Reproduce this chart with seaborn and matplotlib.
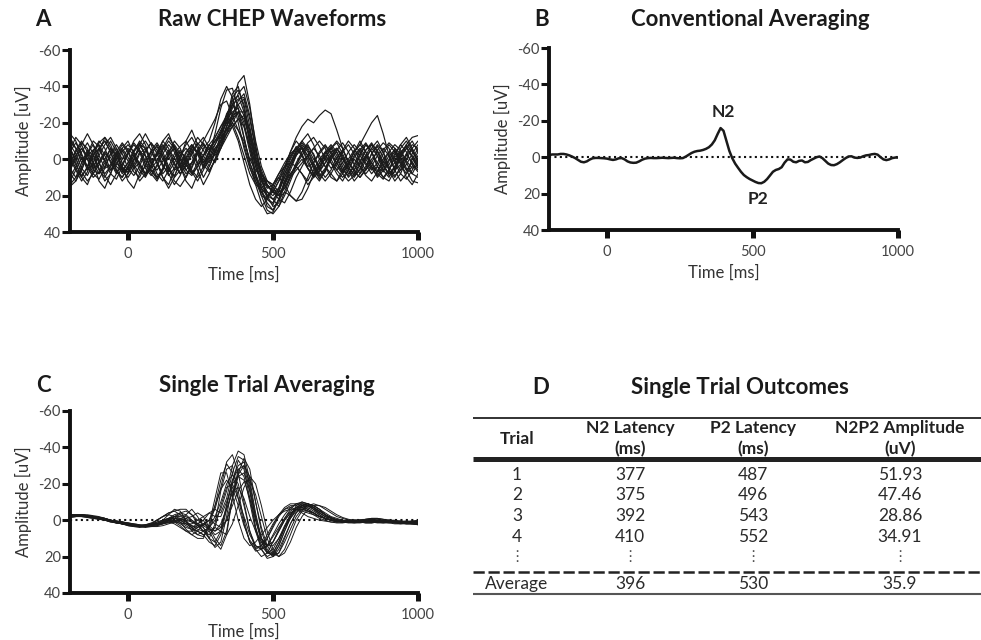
import numpy as np
import pandas as pd
import matplotlib
matplotlib.use("Agg")
import matplotlib.pyplot as plt
import seaborn as sns

# ---------------------------------------------------------------------------
# Data
# ---------------------------------------------------------------------------
# sample times (ms) of the single-trial recordings and of the grand average
trial_times = np.arange(-200, 1001, 20)
average_times = np.arange(-200, 1001, 10)

# raw single-trial CHEP waveforms (uV), one list per trial
raw_traces = [
    [3, -5, -10, -4, 6, 8, 2, -6, -3, 5,
     7, 1, -8, -6, 3, 10, 6, -2, -7, -1,
     4, 2, -5, -9, -3, 2, -6, -18, -30, -42,
     -46, -30, -8, 10, 22, 25, 18, 8, 2, -4,
     -6, 0, 8, 5, -3, -7, -2, 6, 9, 3,
     -5, -9, -4, 4, 7, 1, -6, -3, 5, 8, 2],
    [-8, -3, 5, 9, 2, -6, -10, -4, 4, 7,
     2, -5, -9, -2, 6, 11, 5, -4, -8, -3,
     3, 8, 2, -6, -10, -20, -33, -40, -34, -20,
     -6, 5, 12, 18, 24, 28, 22, 12, 4, -3,
     -8, -4, 3, 9, 5, -2, -6, -1, 5, 8,
     2, -5, -8, -2, 6, 10, 4, -4, -7, -1, 5],
    [5, 10, 6, -3, -8, -2, 5, 3, -4, -9,
     -5, 3, 8, 4, -4, -7, 0, 6, 9, 3,
     -4, -8, -3, 4, -2, -14, -28, -38, -39, -28,
     -12, 2, 10, 16, 20, 18, 12, 6, -1, -7,
     -3, 5, 10, 6, -1, -6, -9, -3, 4, 9,
     6, -2, -8, -5, 3, 9, 7, -1, -6, -10, -4],
    [0, 6, 12, 7, -2, -6, 1, 8, 11, 4,
     -3, -8, -4, 5, 9, 3, -5, -10, -6, 2,
     8, 5, -3, -8, -5, -10, -16, -22, -26, -28,
     -20, -6, 8, 20, 28, 30, 26, 18, 10, 3,
     -2, -7, -3, 5, 10, 6, -1, -5, 1, 7,
     10, 5, -3, -8, -4, 4, 9, 6, -2, -6, 1],
    [-12, -6, 2, -3, -10, -7, 1, 6, 0, -6,
     -10, -3, 4, 9, 4, -3, -8, -4, 3, 8,
     3, -4, -9, -5, 2, -4, -12, -22, -30, -33,
     -34, -22, -5, 8, 15, 18, 16, 10, 4, -2,
     -7, -2, 5, 11, 7, 0, -5, -9, -4, 3,
     8, 4, -3, -7, -1, 6, 10, 4, -3, -8, -6],
    [10, 4, -4, -9, -3, 5, 12, 8, 0, -5,
     1, 7, 10, 3, -5, -9, -4, 4, 10, 6,
     -1, -7, -3, 5, 1, -6, -10, -18, -24, -26,
     -18, -4, 10, 18, 22, 24, 16, 6, -4, -12,
     -18, -22, -20, -24, -27, -25, -16, -6, 2, 6,
     1, -5, -9, -4, 3, 8, 5, -2, -8, -12, -13],
    [-3, 3, 9, 5, -4, -10, -6, 2, 8, 3,
     -4, -9, -5, 3, 8, 12, 6, -2, -6, 0,
     6, 2, -5, -2, 4, -3, -14, -25, -30, -24,
     -12, 2, 12, 20, 22, 16, 10, 14, 20, 23,
     18, 10, 2, -4, -8, -3, 4, 8, 3, -4,
     -8, -14, -20, -24, -14, -2, 6, 3, -3, 2, 6],
    [8, 12, 6, -2, -5, 2, 9, 14, 8, 0,
     -6, -2, 6, 10, 4, -4, -2, 5, 12, 15,
     10, 2, -4, 0, 6, 1, -8, -18, -25, -30,
     -24, -10, 4, 14, 20, 22, 18, 10, 2, -5,
     -9, -5, 2, 8, 12, 8, 2, -4, -8, -3,
     4, 9, 12, 7, 0, -4, 2, 8, 11, 6, 0],
    [-5, -12, -8, 0, 4, -2, -8, -12, -6, 2,
     6, 0, -6, -10, -5, 2, 8, 4, -3, -7,
     -10, -4, 3, -2, -8, -12, -18, -24, -20, -12,
     -2, 8, 14, 16, 12, 14, 18, 16, 9, 2,
     -4, -9, -12, -7, 0, 5, 2, -5, -10, -6,
     1, 6, 2, -5, -9, -6, 1, 6, 3, -3, -8],
    [2, -4, -9, -6, 2, 8, 4, -3, -8, -3,
     5, 9, 4, -4, -9, -5, 3, 9, 5, -2,
     -8, -12, -6, 3, 7, 0, -10, -16, -22, -30,
     -33, -18, 0, 16, 26, 28, 22, 12, 8, 4,
     0, 5, 10, 7, 2, -2, 2, 8, 12, 9,
     3, -2, 2, 8, 11, 6, -1, -4, 2, 8, 10],
    [14, 10, 2, -5, -2, 6, 10, 4, -3, -6,
     -1, 5, 2, -5, -9, -3, 4, 7, 2, -4,
     -1, 6, 10, 4, -4, -8, -14, -20, -28, -36,
     -40, -28, -10, 4, 12, 14, 10, 4, -2, -6,
     -2, 4, 2, -3, -7, -4, 2, 7, 4, -2,
     -6, -2, 4, 7, 2, -4, -8, -5, 1, 5, 3],
    [-6, 0, 7, 12, 8, 1, -4, 1, 7, 10,
     5, -2, -5, 1, 7, 4, -3, -8, -4, 4,
     12, 16, 8, -2, -8, -4, -6, -12, -18, -22,
     -18, -8, 4, 12, 18, 20, 16, 8, 0, -6,
     -10, -6, 0, 4, 0, -6, -10, -6, 2, 6,
     10, 6, 0, -4, 1, 5, 2, -6, -10, -5, 2],
    [4, -2, -6, 0, 8, 11, 5, -3, -6, 0,
     -3, -10, -14, -8, 2, 6, 1, -5, -1, 5,
     2, -6, -12, -8, 0, -6, -10, -14, -20, -26,
     -26, -16, -2, 8, 14, 18, 22, 24, 18, 10,
     4, -2, -6, -2, 4, 10, 12, 6, 0, -5,
     -2, 3, 8, 4, -3, -8, -4, 3, 8, 4, -2],
    [-10, -6, 0, 4, -2, -9, -12, -6, 2, 6,
     2, -4, -8, -2, 5, 1, -6, -12, -7, 0,
     6, 9, 4, -2, -6, -10, -14, -20, -34, -38,
     -30, -14, 0, 10, 16, 14, 8, 2, -3, -6,
     -2, 5, 9, 4, -3, -6, 0, 6, 2, -4,
     -8, -4, 2, 6, 10, 12, 6, -2, -6, -2, 4],
    [12, 6, -1, 4, 10, 7, 0, -6, -2, 6,
     10, 5, -3, -6, 0, 8, 12, 6, -1, -5,
     0, 7, 12, 6, -1, -8, -15, -24, -32, -35,
     -26, -12, 2, 12, 18, 22, 26, 20, 12, 4,
     -4, -8, -2, 6, 2, -4, -6, 0, 6, 10,
     5, -1, -6, -2, 4, 8, 4, -3, -8, -4, 0],
    [-2, 5, 10, 4, -5, -8, -2, 6, 3, -4,
     -8, -4, 3, 8, 3, -4, -10, -6, 2, 8,
     4, -3, -8, -12, -6, -2, -8, -14, -18, -22,
     -24, -16, -4, 6, 14, 18, 20, 14, 6, -2,
     -6, -2, 4, 10, 6, -1, -4, 2, 8, 4,
     -3, -8, -4, 2, 6, 3, -3, -8, -4, 3, 7],
    [6, 0, -6, -2, 5, 2, -4, -10, -4, 4,
     8, 3, -4, -2, 6, 10, 5, -3, -10, -6,
     2, 8, 4, -2, -8, -4, -10, -16, -20, -16,
     -8, 4, 14, 24, 30, 29, 22, 18, 20, 23,
     22, 16, 8, 2, -2, 2, 6, 2, -4, -8,
     -4, 2, 6, 2, -5, -9, -6, 0, 6, 12, 13],
    [-4, -9, -3, 4, 8, 3, -3, -1, 6, 10,
     4, -2, 2, 8, 4, -3, -7, -2, 6, 4,
     -3, -8, -4, 2, -4, -10, -12, -16, -22, -26,
     -22, -12, 0, 8, 12, 16, 20, 14, 8, 4,
     8, 12, 6, 0, -4, 0, 6, 10, 6, -1,
     -5, 0, 5, 9, 4, -2, -5, 1, 6, 2, -4],
    [15, 12, 4, -4, 2, 12, 16, 8, -2, -8,
     -4, 4, 12, 8, -2, -8, -2, 8, 14, 9,
     0, -6, 2, 10, 4, -4, -10, -22, -36, -40,
     -28, -8, 8, 16, 20, 18, 12, 4, -4, -10,
     -6, 2, 8, 12, 6, -2, -6, -2, 6, 12,
     8, 0, -6, -10, -4, 6, 12, 8, 0, -6, -10],
    [-14, -10, -2, 6, 2, -6, -10, -4, 6, 12,
     8, 0, -8, -14, -8, 2, 10, 16, 10, 0,
     -10, -16, -8, 2, -4, -12, -18, -22, -18, -10,
     2, 14, 22, 26, 22, 14, 8, 4, 2, 4,
     8, 14, 10, 2, -4, -8, -4, 4, 10, 6,
     -2, -8, -4, 4, 10, 6, -2, -8, -12, -6, 2],
    [6, -2, -8, -14, -8, 2, 8, 4, -2, 4,
     12, 16, 8, 0, -4, 2, 10, 14, 6, -2,
     -6, -2, 6, 14, 8, 0, -6, -14, -24, -32,
     -36, -24, -6, 10, 20, 26, 24, 14, 4, -4,
     -10, -14, -8, 0, 4, 8, 12, 8, 2, -4,
     -10, -4, 4, 10, 6, 0, -4, 2, 10, 14, 8],
    [-6, 2, 10, 14, 6, -4, -12, -8, 0, 8,
     4, -4, -10, -6, 2, -2, -10, -14, -6, 4,
     10, 4, -4, -10, -16, -22, -30, -32, -24, -16,
     -10, 0, 6, 10, 14, 18, 20, 16, 10, 6,
     2, -2, -6, -10, -6, 2, 8, 12, 6, 0,
     4, 8, 4, -2, -6, -2, 6, 12, 8, 0, -6],
]

# conventional grand average of all trials (uV)
grand_average = [
    -1, -1.5, -1.5, -1.5, -1.8, -1.8, -1.5, -1, -0.3, 0.5,
    1.5, 2.5, 2.8, 2.3, 1.3, 0.6, 0.4, 0.4, 0.5, 0.6,
    0.8, 1.2, 1.5, 1.2, 0.6, 0.5, 1.2, 2.3, 2.9, 3.1,
    3, 2.3, 1.4, 0.8, 0.5, 0.4, 0.5, 0.5, 0.4, 0.3,
    0.4, 0.5, 0.4, 0.3, 0.5, 0.6, 0.5, -0.3, -1.3, -2.3,
    -3, -3.4, -3.6, -4, -4.6, -5.5, -7, -9.3, -12.8, -16,
    -14.5, -9, -3.5, 0.5, 3.5, 5.8, 8, 9.8, 11, 12,
    12.8, 13.6, 14.2, 14.3, 13.5, 12, 10, 8, 7, 6.5,
    5.5, 3, 1.2, 1.3, 2.5, 2.8, 2, 1.8, 2.8, 2.6,
    1.6, 0.8, 0, -0.4, 0.5, 2, 3.5, 4.3, 4.4, 3.8,
    2.8, 1.6, 0.5, -0.4, -0.5, 0.2, 0.4, 0.2, -0.5, -1,
    -1.2, -1.6, -1.8, -1.4, 0, 1.2, 1.6, 1.2, 0.5, 0.2,
    0.2,
]
peak_labels = ["N2", "P2"]
peak_label_times = [400, 520]
peak_label_amps = [-25, 23]

# single-trial estimates after single trial averaging (uV)
single_trial_traces = [
    [-2, -3, -3, -2.5, -2, -1.5, -1, 0, 1, 1.5,
     2, 3, 3.5, 4, 3.5, 3, 2, 1, 0, 0,
     1, 3, 5, 6, 4, 0, -6, -16, -30, -38,
     -36, -22, -4, 10, 18, 19, 14, 6, -1, -6,
     -8, -8, -6, -4, -2, -1, 0, 0.5, 0.5, 0,
     0, -0.5, -1, -1, -0.5, 0, 0.5, 1, 1, 1.5, 2],
    [-2.5, -3, -2.5, -2, -1.5, -1, 0, 0.5, 1, 2,
     2.5, 3, 3, 2.5, 1.5, 0, -2, -4, -5, -3,
     0, 4, 8, 9, 4, -8, -22, -31, -26, -12,
     2, 12, 16, 14, 8, 2, -3, -6, -7, -6,
     -4, -2, -1, 0, 0.5, 1, 1, 0.5, 0, 0,
     0, 0.5, 1, 1, 0.5, 0, 0, 0.5, 1, 1, 1],
    [-3, -3, -2.5, -2, -1.5, -1, -0.5, 0, 1, 1.5,
     2, 2.5, 3, 3.5, 3, 2, 1, 0, 0.5, 2,
     4, 5, 3, 4, 10, 15, 12, -2, -20, -33,
     -28, -12, 4, 14, 18, 16, 10, 3, -3, -7,
     -9, -8, -6, -3, -1, 0, 1, 1, 0.5, 0,
     0, 0, 0.5, 1, 1.5, 1.5, 1, 1, 1.5, 2, 2],
    [-1.5, -2, -2.5, -2.5, -2, -1, 0, 1, 1.5, 2,
     3, 3.5, 4, 3.5, 2.5, 1, 0, -1, -2, -1,
     0, 1, 2, 3, 5, 6, 2, -6, -15, -25,
     -30, -24, -10, 4, 14, 19, 18, 12, 5, -2,
     -6, -8, -7, -5, -3, -1, 0, 0.5, 1, 1,
     0.5, 0, 0, 0.5, 1, 1.5, 2, 2, 1.5, 1.5, 2],
    [-2, -2.5, -3, -3, -2.5, -2, -1, 0, 1, 2,
     2.5, 3, 3, 2.5, 2, 1.5, 1, 0, -2, -4,
     -5, -3, 0, 2, 0, -8, -17, -22, -18, -8,
     3, 11, 15, 14, 10, 4, -2, -6, -8, -8,
     -7, -5, -3, -1, 0, 1, 1.5, 1.5, 1, 0.5,
     0, -0.5, -1, -1, -0.5, 0, 0.5, 1, 1, 0.5, 0],
    [-2.5, -2.5, -2, -1.5, -1, -0.5, 0, 0.5, 1, 1,
     1.5, 2, 2.5, 3, 3.5, 3.5, 3, 2, 1, 0,
     -3, -6, -2, 4, 10, 12, 6, -8, -22, -28,
     -24, -10, 6, 16, 20, 18, 12, 4, -2, -6,
     -8, -7, -5, -3, -1, 0, 0.5, 1, 1, 0.5,
     0, 0, 0.5, 0.5, 1, 1, 1.5, 1.5, 1, 1, 1.5],
    [-2, -2, -2, -1.5, -1, -0.5, 0, 0, 0.5, 1,
     2, 3, 3.5, 3.5, 3, 2, 1, 0, -1, -1,
     1, 3, 4, 2, 0, 2, 4, 0, -8, -16,
     -21, -22, -14, -2, 10, 18, 20, 16, 8, 0,
     -5, -8, -9, -8, -6, -4, -2, -1, 0, 0.5,
     1, 1.5, 1.5, 1, 0.5, 0.5, 1, 1.5, 2, 2, 2.5],
    [-3, -3, -2.5, -2, -1.5, -1, -0.5, 0.5, 1.5, 2,
     2.5, 3, 3.5, 3, 2, 0, -2, -3, -2, 1,
     5, 8, 10, 10, 2, -12, -26, -26, -14, 0,
     10, 14, 12, 8, 4, 0, -3, -5, -6, -6,
     -5, -4, -3, -2, -1, 0, 0.5, 1, 1, 1,
     0.5, 0, -0.5, -0.5, 0, 0.5, 1, 1, 0.5, 0.5, 1],
    [-2, -2.5, -3, -2.5, -2, -1.5, -0.5, 0.5, 1, 1.5,
     2, 2.5, 3, 3.5, 3.5, 3, 2, 0, -2, -3,
     -2, 0, 2, 0, -4, -6, -4, -12, -26, -35,
     -33, -18, 0, 12, 18, 18, 12, 4, -3, -7,
     -9, -9, -8, -6, -3, -1, 0, 0.5, 0.5, 0,
     0, 0.5, 1, 1, 1, 0.5, 0.5, 1, 1.5, 1.5, 1.5],
    [-2, -2, -2, -2, -1.5, -1, -0.5, 0, 0.5, 1,
     1.5, 2.5, 3, 3, 2.5, 2, 1, 0, 0, 1,
     3, 5, 6, 8, 12, 14, 8, -6, -16, -18,
     -12, -2, 6, 12, 14, 12, 6, 0, -4, -6,
     -6, -5, -4, -2, -1, 0, 0.5, 1, 1.5, 1.5,
     1, 1, 0.5, 0.5, 1, 1, 1.5, 2, 2, 2, 2],
    [-3, -3, -2.5, -2, -1.5, -1, 0, 0.5, 1, 1.5,
     2, 2.5, 3, 3, 3, 2.5, 1.5, 0.5, 1, 3,
     6, 8, 6, 2, 3, 6, 4, -8, -22, -30,
     -32, -20, -2, 10, 14, 12, 6, 0, -4, -6,
     -6, -5, -4, -2, -1, 0, 0, 0.5, 0.5, 0.5,
     0, -0.5, -0.5, 0, 0.5, 1, 1, 0.5, 0.5, 1, 1],
    [-1.5, -2, -2.5, -2.5, -2, -1.5, -1, 0, 1, 2,
     3, 3.5, 3.5, 3, 2.5, 2, 1, -1, -3, -4,
     -3, 0, 3, 6, 8, 4, -8, -18, -20, -12,
     -2, 8, 14, 16, 14, 8, 2, -3, -7, -9,
     -9, -8, -6, -4, -2, -1, 0, 0.5, 1, 1,
     1, 0.5, 0, 0, 0.5, 1, 1, 1, 1, 1, 0.5],
    [-2.5, -3, -3, -2.5, -2, -1, 0, 0.5, 1, 1.5,
     2, 2.5, 3, 3, 2.5, 2, 1.5, 1, 0.5, 0,
     -1, -2, -4, -2, 4, 10, 14, 6, -12, -24,
     -26, -16, -2, 10, 17, 20, 16, 9, 2, -4,
     -7, -8, -7, -5, -3, -1.5, 0, 0.5, 1, 1,
     1, 1, 1, 1.5, 1.5, 1, 0.5, 0.5, 1, 1.5, 2],
    [-2, -2.5, -2.5, -2, -1.5, -1, -0.5, 0, 0.5, 1,
     1.5, 2, 2.5, 3, 2, 0, -2, -4, -5, -6,
     -6, -3, 2, 6, 4, -2, -10, -20, -25, -20,
     -8, 6, 14, 16, 14, 9, 4, -1, -5, -7,
     -7, -6, -4, -2, -1, 0, 0.5, 1, 1, 1.5,
     1.5, 1, 0.5, 0.5, 0.5, 1, 1.5, 1.5, 1, 1, 1],
    [-2, -2, -2.5, -2.5, -2, -1.5, -1, 0, 0.5, 1,
     2, 2.5, 3, 3, 3, 2.5, 2, 1.5, 1, 1.5,
     2, 4, 6, 8, 6, 4, 6, 8, 2, -8,
     -18, -24, -20, -8, 6, 16, 20, 18, 12, 4,
     -2, -6, -8, -8, -7, -5, -3, -1.5, -0.5, 0,
     0.5, 1, 1, 1, 0.5, 0.5, 1, 1.5, 2, 2, 2.5],
    [-2.5, -2.5, -2.5, -2, -1.5, -1, 0, 0.5, 1.5, 2,
     2.5, 3, 3, 2.5, 2, 1, 0, -1, -2, -2,
     -1, 1, 3, 3, 0, -6, -18, -32, -36, -26,
     -10, 6, 16, 20, 18, 12, 5, -1, -6, -9,
     -10, -9, -7, -5, -3, -1.5, -0.5, 0, 0.5, 1,
     1, 1, 0.5, 0, 0, 0.5, 1, 1.5, 1.5, 1, 1],
    [-2.5, -3, -3, -2.5, -2, -1, 0, 1, 1.5, 2,
     2.5, 3, 3, 3, 2.5, 2, 1, 0, -1, 0,
     2, 4, 2, 0, 6, 12, 16, 8, -12, -28,
     -30, -16, 4, 16, 21, 20, 14, 6, -2, -8,
     -10, -9, -7, -4, -2, 0, 1, 1, 0.5, 0.5,
     0.5, 1, 1, 1, 0.5, 0.5, 1, 1.5, 1.5, 1.5, 1.5],
    [-2, -2.5, -2.5, -2, -1.5, -1, -0.5, 0.5, 1, 1.5,
     2.5, 3, 3.5, 3.5, 3, 2, 0, -3, -6, -5,
     0, 6, 8, 6, 10, 2, -16, -28, -30, -16,
     0, 12, 17, 16, 10, 3, -3, -7, -9, -9,
     -8, -6, -4, -2, -1, 0, 0.5, 1, 1, 1,
     0.5, 0, 0, 0.5, 0.5, 1, 1, 1, 1, 0.5, 0.5],
    [-2, -2, -2.5, -2.5, -2, -1.5, -1, 0, 1, 1.5,
     2, 2.5, 3, 3.5, 3, 2, 0.5, -1, -1, 0,
     2, 2, 0, -2, -4, -2, -2, -10, -20, -24,
     -22, -12, 0, 10, 14, 14, 10, 4, -1, -5,
     -8, -9, -8, -6, -3, -1, 0, 0.5, 0.5, 0.5,
     0.5, 0.5, 1, 1, 1, 1, 1, 1, 1.5, 1.5, 1.5],
    [-3, -3, -2.5, -2.5, -2, -1.5, -0.5, 0.5, 1.5, 2,
     2.5, 3, 3, 3, 2.5, 2, 1.5, 1, 2, 4,
     6, 6, 4, 2, 4, 8, 6, 0, -12, -26,
     -34, -28, -10, 6, 16, 20, 18, 10, 2, -4,
     -8, -9, -8, -6, -4, -2, -1, 0, 0.5, 0.5,
     1, 1.5, 1.5, 1, 0.5, 0, 0.5, 1, 1.5, 2, 2],
]

# table of single trial outcomes
table_columns = ["Trial", "N2 Latency", "P2 Latency", "N2P2 Amplitude"]
table_units = ["", "(ms)", "(ms)", "(uV)"]
trial_ids = ["1", "2", "3", "4"]
n2_latency = [377, 375, 392, 410]
p2_latency = [487, 496, 543, 552]
n2p2_amplitude = ["51.93", "47.46", "28.86", "34.91"]
average_row = ["Average", "396", "530", "35.9"]

y_ticks = [-60, -40, -20, 0, 20, 40]
x_ticks = [0, 500, 1000]


def long_frame(traces, times):
    frames = []
    for k, tr in enumerate(traces):
        if len(tr) != len(times):
            raise ValueError(f"trace {k} has {len(tr)} samples")
        frames.append(pd.DataFrame({"time": times, "amp": tr, "trial": k}))
    return pd.concat(frames, ignore_index=True)


# ---------------------------------------------------------------------------
# Style
# ---------------------------------------------------------------------------
sns.set_theme(style="white")
plt.rcParams["font.family"] = ["Lato", "DejaVu Sans"]
plt.rcParams["axes.unicode_minus"] = False

W, H = 981, 640
fig = plt.figure(figsize=(W / 100, H / 100), dpi=100)
fig.patch.set_facecolor("white")

LABEL_KW = dict(fontsize=12, color="#333333")


def px_axes(left, top, right, bottom):
    return fig.add_axes([left / W, 1 - bottom / H, (right - left) / W, (bottom - top) / H])


def style_axis(ax, xlabelpad=4):
    ax.set_xlim(-200, 1000)
    ax.set_ylim(40, -60)
    ax.set_xticks(x_ticks)
    ax.set_yticks(y_ticks)
    ax.set_yticklabels([str(v) for v in y_ticks])
    ax.set_facecolor("none")
    for s in ("top", "right"):
        ax.spines[s].set_visible(False)
    for s in ("left", "bottom"):
        ax.spines[s].set_linewidth(2.8)
        ax.spines[s].set_color("#111111")
    ax.tick_params(axis="y", direction="out", length=6, width=2.2, color="#111111",
                   labelsize=10.5, labelcolor="#444444", pad=0.5, left=True)
    ax.tick_params(axis="x", direction="out", length=6, width=3.6, color="#111111",
                   labelsize=10.5, labelcolor="#444444", pad=5, bottom=True)
    ax.set_xlabel("Time [ms]", labelpad=xlabelpad, **LABEL_KW)
    ax.set_ylabel("Amplitude [uV]", labelpad=5, **LABEL_KW)
    ax.axhline(0, color="#111111", ls=(0, (1, 1.6)), lw=1.5, zorder=1)
    ax.grid(False)


# ---------------------------------------------------------------------------
# A: raw waveforms
# ---------------------------------------------------------------------------
ax_a = px_axes(70, 50, 418, 232)
sns.lineplot(data=long_frame(raw_traces, trial_times), x="time", y="amp",
             units="trial", estimator=None, color="#1a1a1a", lw=0.85,
             legend=False, ax=ax_a, zorder=2)
style_axis(ax_a)

# ---------------------------------------------------------------------------
# B: conventional averaging
# ---------------------------------------------------------------------------
ax_b = px_axes(549, 48, 898, 230)
sns.lineplot(x=average_times, y=grand_average, color="#1a1a1a", lw=1.8,
             ax=ax_b, zorder=2)
style_axis(ax_b)
for lab, t, a in zip(peak_labels, peak_label_times, peak_label_amps):
    ax_b.text(t, a, lab, ha="center", va="center", fontsize=12.5,
              fontweight="bold", color="#222222")

# ---------------------------------------------------------------------------
# C: single trial averaging
# ---------------------------------------------------------------------------
ax_c = px_axes(70, 411, 418, 593)
sns.lineplot(data=long_frame(single_trial_traces, trial_times), x="time", y="amp",
             units="trial", estimator=None, color="#1a1a1a", lw=0.7,
             legend=False, ax=ax_c, zorder=2)
style_axis(ax_c, xlabelpad=1)

# ---------------------------------------------------------------------------
# Titles and the outcome table (drawn on a full-figure pixel overlay)
# ---------------------------------------------------------------------------
ov = fig.add_axes([0, 0, 1, 1], zorder=-1)
ov.set_xlim(0, W)
ov.set_ylim(H, 0)
ov.axis("off")

title_kw = dict(fontsize=16, fontweight="bold", color="#1a1a1a", va="center")
ov.text(43, 20, "A", ha="center", **title_kw)
ov.text(272, 20, "Raw CHEP Waveforms", ha="center", **title_kw)
ov.text(542, 20, "B", ha="center", **title_kw)
ov.text(750, 20, "Conventional Averaging", ha="center", **title_kw)
ov.text(43, 385, "C", ha="center", **title_kw)
ov.text(267, 385, "Single Trial Averaging", ha="center", **title_kw)
ov.text(541, 387, "D", ha="center", **title_kw)
ov.text(740, 387, "Single Trial Outcomes", ha="center", **title_kw)

col_x = [517, 630, 753, 900]
head_kw = dict(fontsize=12.5, fontweight="bold", color="#222222", ha="center", va="center")
body_kw = dict(fontsize=12.5, color="#2a2a2a", ha="center", va="center")

ov.hlines(418, 473, W, color="#222222", lw=1.3)
ov.hlines(459, 473, W, color="#222222", lw=3.6)
ov.hlines(572, 473, W, color="#222222", lw=1.8, linestyles=(0, (4.5, 1.5)))
ov.hlines(594, 473, W, color="#555555", lw=1.5)

ov.text(col_x[0], 439, table_columns[0], **head_kw)
for x, name, unit in zip(col_x[1:], table_columns[1:], table_units[1:]):
    ov.text(x, 428, name, **head_kw)
    ov.text(x, 449, unit, **head_kw)

row_y = [475, 495, 516, 537]
for y, tid, n2, p2, amp in zip(row_y, trial_ids, n2_latency, p2_latency, n2p2_amplitude):
    for x, val in zip(col_x, [tid, str(n2), str(p2), amp]):
        ov.text(x, y, val, **body_kw)
for x in col_x:
    ov.text(x, 557, "\u22ee", fontsize=11, color="#555555", ha="center", va="center",
            family=["DejaVu Sans"])
for x, val in zip(col_x, average_row):
    ov.text(x, 584, val, **body_kw)

fig.savefig("out.png", dpi=100, facecolor="white")
